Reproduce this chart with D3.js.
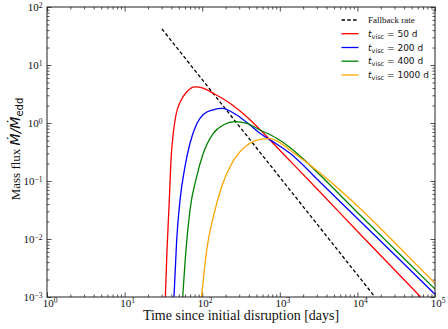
<!DOCTYPE html>
<html>
<head>
<meta charset="utf-8">
<script src="https://cdn.jsdelivr.net/npm/d3@7"></script>
<style>
body { margin: 0; background: #fff; }
svg { display: block; }
</style>
</head>
<body>
<svg width="448" height="329"></svg>
<script>
// values (days, Mdot / Mdot_edd)
var fallbackDays = [30.3, 16860];
var fallbackFlux = [41.8, 0.001];

var viscTimes = [50, 200, 400, 1000];

var days50 = [33.5, 35.2, 37.7, 39.6, 42.4, 45.9, 52.8, 63.1, 80.8, 102.4, 139, 228, 375, 613, 1006, 3296, 10800, 35400, 65400];
var flux50 = [0.001, 0.00646, 0.047, 0.23, 0.672, 1.374, 2.40, 3.42, 4.18, 4.01, 3.25, 2.19, 1.28, 0.672, 0.336, 0.0646, 0.0122, 0.00235, 0.001];

var days200 = [43.3, 46.9, 51.8, 60.0, 69.6, 84.9, 103.3, 139, 180, 278, 413, 556, 867, 1353, 3296, 10800, 35400, 100000];
var flux200 = [0.001, 0.00961, 0.047, 0.1765, 0.447, 0.96, 1.40, 1.69, 1.79, 1.374, 0.924, 0.664, 0.452, 0.300, 0.0961, 0.0204, 0.00434, 0.00111];

var days400 = [56.1, 61.8, 69.6, 84.9, 103.3, 139, 187, 265, 375, 556, 912, 1353, 2112, 3296, 10800, 35400, 100000];
var flux400 = [0.001, 0.00646, 0.0316, 0.1186, 0.300, 0.664, 0.924, 1.053, 0.988, 0.757, 0.545, 0.378, 0.2256, 0.1269, 0.0259, 0.0054, 0.00137];

var days1000 = [98, 114.3, 139, 178, 228, 307, 413, 556, 748, 1006, 1353, 2451, 5968, 14540, 35400, 100000];
var flux1000 = [0.001, 0.00646, 0.0242, 0.0797, 0.1765, 0.320, 0.447, 0.524, 0.536, 0.457, 0.342, 0.1888, 0.070, 0.0230, 0.0070, 0.00172];

var xPowers = [0, 1, 2, 3, 4, 5];
var yPowers = [-3, -2, -1, 0, 1, 2];

var seriesDays = [days50, days200, days400, days1000];
var seriesFlux = [flux50, flux200, flux400, flux1000];
var colors = ["#ff0000", "#0000ff", "#008000", "#ffa500"];

var svg = d3.select("svg"),
    margin = {left: 47, right: 13, top: 7, bottom: 32},
    width = +svg.attr("width"),
    height = +svg.attr("height");

var x = d3.scaleLog().domain([1, 1e5]).range([margin.left, width - margin.right]);
var y = d3.scaleLog().domain([1e-3, 1e2]).range([height - margin.bottom, margin.top]);

var serif = "'Liberation Serif', 'Times New Roman', serif",
    sans = "'DejaVu Sans', sans-serif";

function isMajor(d) {
    var l = Math.log10(d);
    return Math.abs(l - Math.round(l)) < 1e-6;
}

svg.append("clipPath").attr("id", "plot")
    .append("rect")
    .attr("x", x.range()[0]).attr("y", y.range()[1])
    .attr("width", x.range()[1] - x.range()[0])
    .attr("height", y.range()[0] - y.range()[1]);

// ticks on all four sides, pointing inward
var axisColor = "#222";
function tickAxis(axis, transform, attr, sign) {
    var g = svg.append("g")
        .attr("transform", transform)
        .call(axis.tickFormat("").tickSizeOuter(0));
    g.select(".domain").remove();
    g.selectAll(".tick line")
        .attr("stroke", axisColor)
        .attr("stroke-width", 0.8)
        .attr(attr, function (d) { return sign * (isMajor(d) ? 4.5 : 2.5); });
}
tickAxis(d3.axisBottom(x).tickValues(x.ticks()), "translate(0," + y.range()[0] + ")", "y2", -1);
tickAxis(d3.axisTop(x).tickValues(x.ticks()), "translate(0," + y.range()[1] + ")", "y2", 1);
tickAxis(d3.axisLeft(y).tickValues(y.ticks()), "translate(" + x.range()[0] + ",0)", "x2", 1);
tickAxis(d3.axisRight(y).tickValues(y.ticks()), "translate(" + x.range()[1] + ",0)", "x2", -1);

// curves
var line = d3.line()
    .x(function (d) { return x(d[0]); })
    .y(function (d) { return y(d[1]); })
    .curve(d3.curveMonotoneX);

var curves = svg.append("g").attr("clip-path", "url(#plot)");

curves.append("path")
    .datum(d3.zip(fallbackDays, fallbackFlux))
    .attr("fill", "none")
    .attr("stroke", "#000")
    .attr("stroke-width", 1.3)
    .attr("stroke-dasharray", "3.5,2.3")
    .attr("d", line);

seriesDays.forEach(function (days, i) {
    curves.append("path")
        .datum(d3.zip(days, seriesFlux[i]))
        .attr("fill", "none")
        .attr("stroke", colors[i])
        .attr("stroke-width", 1.3)
        .attr("d", line);
});

// frame
svg.append("rect")
    .attr("x", x.range()[0]).attr("y", y.range()[1])
    .attr("width", x.range()[1] - x.range()[0])
    .attr("height", y.range()[0] - y.range()[1])
    .attr("fill", "none")
    .attr("stroke", axisColor)
    .attr("stroke-width", 1);

// tick labels 10^n
var xLab = svg.append("g")
    .selectAll("text")
    .data(xPowers)
    .enter().append("text")
    .attr("x", function (p) { return x(Math.pow(10, p)) + 3; })
    .attr("y", y.range()[0] + 9.5)
    .attr("text-anchor", "middle")
    .style("font-family", serif)
    .style("font-size", "11px")
    .style("fill", "#111");
xLab.append("tspan").text("10");
xLab.append("tspan").attr("dy", "-0.45em").style("font-size", "7.5px")
    .text(function (p) { return String(p).replace("-", "\u2212"); });

var yLab = svg.append("g")
    .selectAll("text")
    .data(yPowers)
    .enter().append("text")
    .attr("x", x.range()[0] - 4.5)
    .attr("y", function (p) { return y(Math.pow(10, p)) + 4; })
    .attr("text-anchor", "end")
    .style("font-family", serif)
    .style("font-size", "11px")
    .style("fill", "#111");
yLab.append("tspan").text("10");
yLab.append("tspan").attr("dy", "-0.45em").style("font-size", "7.5px")
    .text(function (p) { return String(p).replace("-", "\u2212"); });

// axis titles
svg.append("text")
    .attr("x", (x.range()[0] + x.range()[1]) / 2)
    .attr("y", 320)
    .attr("text-anchor", "middle")
    .style("font-family", serif)
    .style("font-size", "14px")
    .style("fill", "#111")
    .text("Time since initial disruption [days]");

var yTitle = svg.append("text")
    .attr("transform", "translate(20,149) rotate(-90)")
    .attr("text-anchor", "middle")
    .style("fill", "#111");
yTitle.append("tspan").style("font-family", serif).style("font-size", "13px").text("Mass flux ");
yTitle.append("tspan").style("font-family", sans).style("font-size", "14px")
    .style("font-style", "italic").text("\u1E40/\u1E40");
yTitle.append("tspan").attr("dy", 3).style("font-family", sans).style("font-size", "10px").text("edd");

// legend
var legendY = [20, 33.7, 47.5, 61.2, 75];
var legend = svg.append("g");
legend.append("line")
    .attr("x1", 341.5).attr("x2", 358.5)
    .attr("y1", legendY[0]).attr("y2", legendY[0])
    .attr("stroke", "#000").attr("stroke-width", 1.3)
    .attr("stroke-dasharray", "3.5,2.3");
legend.append("text")
    .attr("x", 368).attr("y", legendY[0] + 3)
    .style("font-family", serif).style("font-size", "9px").style("fill", "#111")
    .text("Fallback rate");

viscTimes.forEach(function (tv, i) {
    var ly = legendY[i + 1];
    legend.append("line")
        .attr("x1", 341.5).attr("x2", 358.5)
        .attr("y1", ly).attr("y2", ly)
        .attr("stroke", colors[i]).attr("stroke-width", 1.3);
    var t = legend.append("text")
        .attr("x", 368).attr("y", ly + 3)
        .style("font-family", sans).style("font-size", "9px").style("fill", "#111");
    t.append("tspan").style("font-style", "italic").text("t");
    t.append("tspan").attr("dy", 2).style("font-size", "6.5px").text("visc");
    t.append("tspan").attr("dy", -2).text(" = " + tv + " d");
});
</script>
</body>
</html>
